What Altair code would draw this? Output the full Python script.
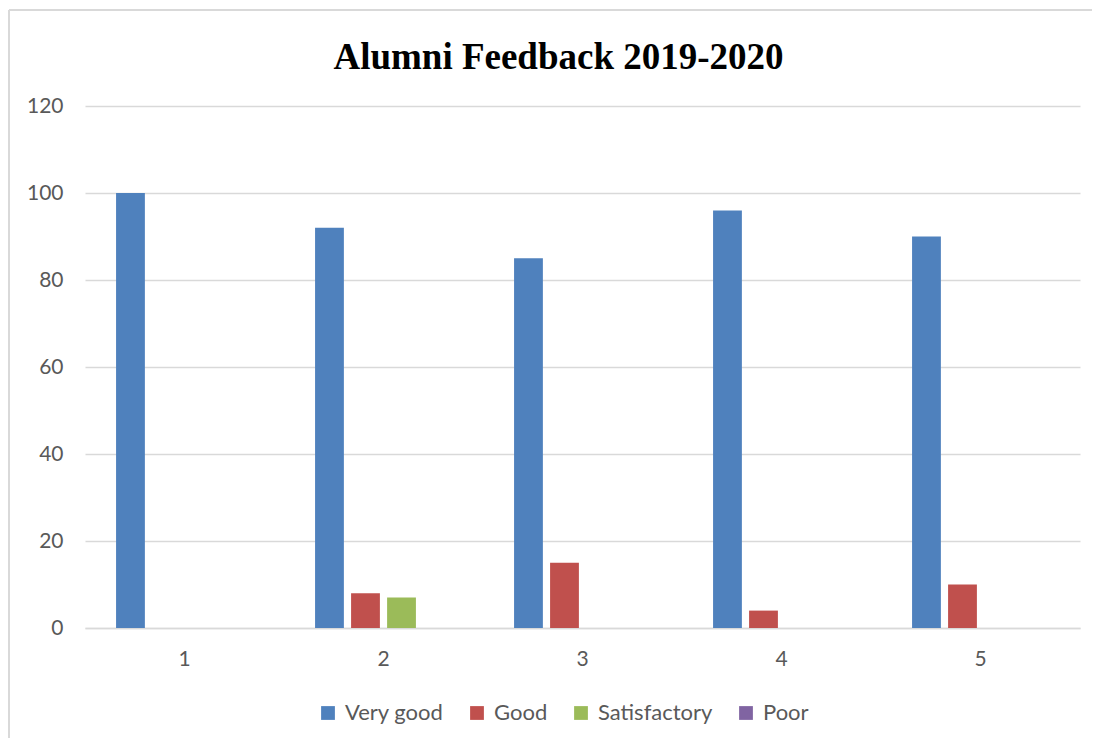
import altair as alt
import pandas as pd

categories = ["1", "2", "3", "4", "5"]
series = ["Very good", "Good", "Satisfactory", "Poor"]
very_good = [100, 92, 85, 96, 90]
good = [0, 8, 15, 4, 10]
satisfactory = [0, 7, 0, 0, 0]
poor = [0, 0, 0, 0, 0]
colors = ["#4F81BD", "#C0504D", "#9BBB59", "#8064A2"]
y_ticks = [0, 20, 40, 60, 80, 100, 120]

rows = []
for name, vals in zip(series, [very_good, good, satisfactory, poor]):
    for c, v in zip(categories, vals):
        rows.append({"Item": c, "Rating": name, "Value": v})
df = pd.DataFrame(rows)

label_font = "Lato"
gray = "#595959"
line = "#D9D9D9"

bars = alt.Chart(df).mark_bar().encode(
    x=alt.X("Item:N", sort=categories,
            scale=alt.Scale(paddingInner=0.276, paddingOuter=0.138),
            axis=alt.Axis(title=None, labelAngle=0, ticks=False, domainColor=line,
                          domainWidth=1.5, labelFontSize=21, labelColor=gray,
                          labelPadding=20, labelFont=label_font)),
    xOffset=alt.XOffset("Rating:N", sort=series,
                        scale=alt.Scale(paddingInner=0.2, paddingOuter=0.1)),
    y=alt.Y("Value:Q", scale=alt.Scale(domain=[0, 120]),
            axis=alt.Axis(title=None, values=y_ticks, domain=False, ticks=False,
                          gridColor=line, gridWidth=1.5, labelPadding=22,
                          labelFontSize=21, labelColor=gray, labelFont=label_font)),
    color=alt.Color("Rating:N", sort=series,
                    scale=alt.Scale(domain=series, range=colors),
                    legend=alt.Legend(title=None, orient="none", legendX=232, legendY=596,
                                      direction="horizontal", symbolType="square",
                                      symbolSize=190, symbolStrokeWidth=0,
                                      labelFontSize=22, labelColor=gray,
                                      labelFont=label_font, columnPadding=22,
                                      labelOffset=6)),
)

border = alt.Chart(alt.Data(values=[{}]))
left_border = border.mark_rule(color=line, strokeWidth=2).encode(
    x=alt.value(-76), y=alt.value(-96), y2=alt.value(650))
top_border = border.mark_rule(color=line, strokeWidth=2).encode(
    x=alt.value(-76), x2=alt.value(1007), y=alt.value(-96))

chart = alt.layer(bars, left_border, top_border).properties(
    width=995, height=522,
    autosize="none",
    padding={"left": 77, "top": 98, "right": 12, "bottom": 110},
    title=alt.TitleParams("Alumni Feedback 2019-2020", font="Liberation Serif",
                          fontSize=37, fontWeight="bold", color="black",
                          anchor="middle", dx=-24, offset=-97, baseline="alphabetic"),
).configure_view(stroke=None)

chart.save("out.html", embed_options={"renderer": "svg", "actions": False})
